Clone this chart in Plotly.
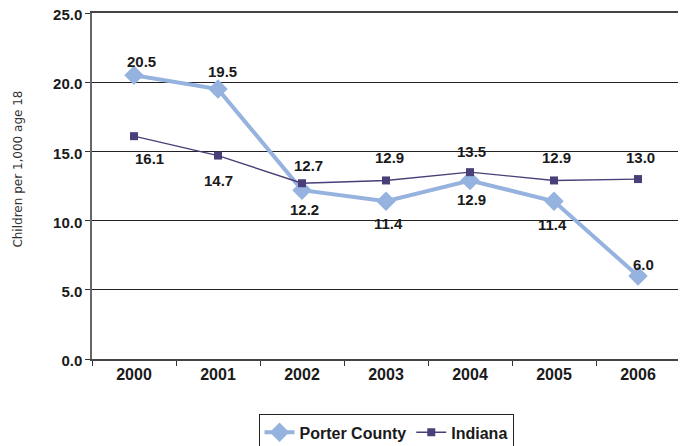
import plotly.graph_objects as go

years = ["2000", "2001", "2002", "2003", "2004", "2005", "2006"]
porter = [20.5, 19.5, 12.2, 11.4, 12.9, 11.4, 6.0]
indiana = [16.1, 14.7, 12.7, 12.9, 13.5, 12.9, 13.0]
y_ticks = [0, 5, 10, 15, 20, 25]

# label offsets in pixels (dx right, dy down) relative to each point
porter_dx = [7, 4, 2, 2, 1, -2, 5]
porter_dy = [-14, -18, 19, 22, 19, 23, -11]
indiana_dx = [15, 0, 6, 3, 1, 2, 2]
indiana_dy = [22, 25, -18, -23, -21, -23, -22]

font_fam = "Liberation Sans, Arial, sans-serif"
txt = "#1a1a1a"

fig = go.Figure()
fig.add_trace(go.Scatter(
    x=years, y=porter, name="<b>Porter County</b>", mode="lines+markers",
    line=dict(color="#95B3DE", width=4),
    marker=dict(symbol="diamond", size=15, color="#95B3DE"),
    cliponaxis=False,
))
fig.add_trace(go.Scatter(
    x=years, y=indiana, name="<b>Indiana</b>", mode="lines+markers",
    line=dict(color="#4A3F78", width=1.4),
    marker=dict(symbol="square", size=8, color="#4A3F78"),
    cliponaxis=False,
))

annots = []
for vals, dxs, dys in ((porter, porter_dx, porter_dy), (indiana, indiana_dx, indiana_dy)):
    for i, (v, dx, dy) in enumerate(zip(vals, dxs, dys)):
        # category axes place annotations by category index
        annots.append(dict(
            x=i, y=v, xref="x", yref="y", text=f"<b>{v:.1f}</b>", showarrow=False,
            xanchor="center", yanchor="middle", xshift=dx, yshift=-dy,
            font=dict(family=font_fam, size=15, color=txt),
        ))
annots.append(dict(
    text="Children per 1,000 age 18", textangle=-90,
    xref="paper", yref="paper", x=-0.126, y=0.55, xanchor="center", yanchor="middle",
    showarrow=False, font=dict(family="DejaVu Sans, sans-serif", size=12, color="#333"),
))

fig.update_layout(
    width=678, height=438,
    margin=dict(l=84, r=6, t=5, b=87, autoexpand=False),
    paper_bgcolor="white", plot_bgcolor="white",
    font=dict(family=font_fam, color=txt),
    showlegend=True,
    legend=dict(orientation="h", x=0.5, xanchor="center", y=-0.16, yanchor="top",
                bordercolor="#222", borderwidth=1,
                font=dict(family=font_fam, size=16, color=txt),
                itemwidth=30, tracegroupgap=0),
    annotations=annots,
)
fig.update_xaxes(
    type="category", categoryorder="array", categoryarray=years,
    range=[-0.5, len(years) - 0.5],
    showgrid=False, showline=True, linecolor="#444", linewidth=1.5,
    mirror=True,
    ticks="outside", tickson="boundaries", ticklen=5, tickcolor="#333",
    tickvals=years, ticktext=[f"<b>{y}</b>" for y in years],
    tickfont=dict(family=font_fam, size=16, color=txt),
    automargin=False,
)
fig.update_yaxes(
    range=[0, 25], tickvals=y_ticks, ticktext=[f"<b>{v:.1f}</b>" for v in y_ticks],
    showgrid=True, gridcolor="#222", gridwidth=1,
    showline=True, linecolor="#666", linewidth=1.5, mirror=True,
    ticks="outside", ticklen=5, tickcolor="#333",
    tickfont=dict(family=font_fam, size=15, color=txt),
    ticklabelshift=2,
    ticklabeloverflow="allow",
    zeroline=False, automargin=False,
)

fig.write_html("out.html")
